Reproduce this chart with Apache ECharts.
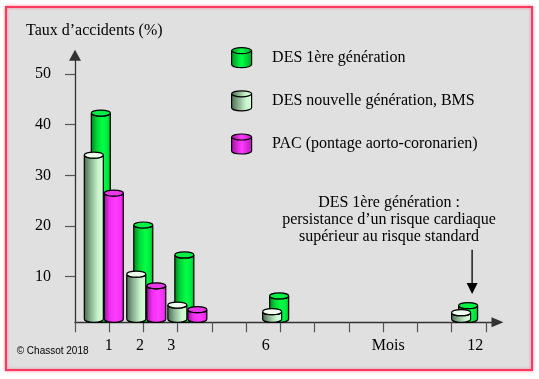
<!DOCTYPE html>
<html>
<head>
<meta charset="utf-8">
<script src="https://cdn.jsdelivr.net/npm/echarts@6/dist/echarts.min.js"></script>
<style>html,body{margin:0;padding:0;background:#fff}#c{width:539px;height:379px}</style>
</head>
<body>
<div id="c"></div>
<script>
// ---- data ----
const seriesNames = ['DES 1ère génération', 'DES nouvelle génération, BMS', 'PAC (pontage aorto-coronarien)'];
const months = ['1', '2', '3', '6', '12'];
const groupX = [0.55, 1.79, 2.99, 5.76, 11.28];      // cluster position on the month axis
const des1 = [42.3, 20.2, 14.3, 6.2, 4.3];
const bms = [34.0, 10.5, 4.4, 3.1, 2.9];
const pac = [26.5, 8.2, 3.5, null, null];
const xTickValues = [0, 1, 2, 3, 4, 5, 6, 7, 8, 9, 10, 11, 12];
const xLabelValues = [0.985, 1.90, 2.81, 5.574, 9.153, 11.69];
const xLabelTexts = ['1', '2', '3', '6', 'Mois', '12'];
const yTickValues = [10, 20, 30, 40, 50];
const annotationLines = ['DES 1ère génération :', 'persistance d’un risque cardiaque', 'supérieur au risque standard'];
const arrowFrom = 15.3, arrowTo = 6.6;

const Y_MIN = 1, Y_MAX = 53.7, X_MIN = 0, X_MAX = 12.343;
const SERIF = '"Liberation Serif", "DejaVu Serif", serif';

function lg(stops) {
  return new echarts.graphic.LinearGradient(0, 0, 1, 0, stops.map((c) => ({offset: c[0], color: c[1]})));
}
const styles = [
  { offset: 7, body: lg([[0, '#007a1a'], [0.3, '#00d838'], [0.6, '#00ff46'], [0.85, '#00e83e'], [1, '#009a26']]), top: '#00f044' },
  { offset: 0, body: lg([[0, '#44634a'], [0.35, '#8cb494'], [0.7, '#c8f4cc'], [1, '#d6ffdc']]), top: '#eeffee' },
  { offset: 20, body: lg([[0, '#9a0e9a'], [0.3, '#f030f0'], [0.6, '#ff3cff'], [0.85, '#f530f5'], [1, '#b818b8']]), top: '#e838e8' }
];
const legendColors = [
  lg([[0, '#00901e'], [0.5, '#00ff46'], [1, '#00a026']]),
  lg([[0, '#4a6a4e'], [0.7, '#c8f4cc'], [1, '#d6ffdc']]),
  lg([[0, '#a010a0'], [0.5, '#ff3cff'], [1, '#b818b8']])
];

function cyl(st) {
  return function (params, api) {
    const x = api.value(0), v = api.value(1);
    const top = api.coord([x, v]);
    const base = api.coord([x, Y_MIN]);
    const rx = 9.5, ry = 3;
    const cx = top[0] + st.offset;
    const l = cx - rx, r = cx + rx, t = top[1], b = base[1] - ry;
    return {
      type: 'group',
      children: [
        { type: 'path', shape: { pathData: `M${l} ${t}L${l} ${b}A${rx} ${ry} 0 0 0 ${r} ${b}L${r} ${t}A${rx} ${ry} 0 0 1 ${l} ${t}Z` },
          style: { fill: st.body, stroke: '#000', lineWidth: 1.2 } },
        { type: 'path', shape: { pathData: `M${l} ${t}A${rx} ${ry} 0 0 0 ${r} ${t}A${rx} ${ry} 0 0 0 ${l} ${t}Z` },
          style: { fill: st.top, stroke: '#000', lineWidth: 1.2 } }
      ]
    };
  };
}
function mk(vals) {
  const out = [];
  vals.forEach((v, i) => { if (v != null) out.push([groupX[i], v]); });
  return out;
}
const allVals = [des1, bms, pac];

const cylIcon = 'path://M0 3A10 3 0 0 0 20 3A10 3 0 0 0 0 3ZM0 3L0 17A10 3 0 0 0 20 17L20 3';

const chart = echarts.init(document.getElementById('c'), null, { renderer: 'canvas' });
chart.setOption({
  animation: false,
  backgroundColor: '#ffffff',
  title: {
    text: 'Taux d’accidents (%)', left: 26, top: 23, padding: 0,
    textStyle: { fontFamily: SERIF, fontSize: 16, fontWeight: 'normal', color: '#000' }
  },
  legend: {
    orient: 'vertical', left: 231, top: 47, padding: 0,
    itemWidth: 21, itemHeight: 20, itemGap: 22,
    icon: cylIcon,
    itemStyle: { borderColor: '#000', borderWidth: 1.2 },
    textStyle: { fontFamily: SERIF, fontSize: 16, color: '#000', padding: [0, 0, 0, 15] },
    data: seriesNames
  },
  grid: { left: 75, right: 41.5, top: 55.3, bottom: 56.7, containLabel: false },
  xAxis: {
    type: 'value', min: X_MIN, max: X_MAX,
    axisLine: { show: true, lineStyle: { color: '#333', width: 1.3 }, symbol: ['none', 'triangle'], symbolSize: [10, 12] },
    axisTick: { show: true, length: 10, lineStyle: { color: '#555', width: 1.2 }, customValues: xTickValues },
    axisLabel: {
      customValues: xLabelValues, margin: 15,
      formatter: (v) => { const i = xLabelValues.findIndex(a => Math.abs(a - v) < 1e-6); return i >= 0 ? xLabelTexts[i] : ''; },
      fontFamily: SERIF, fontSize: 16, color: '#000'
    },
    splitLine: { show: false }
  },
  yAxis: {
    type: 'value', min: Y_MIN, max: Y_MAX,
    axisLine: { show: true, lineStyle: { color: '#333', width: 1.3 }, symbol: ['none', 'triangle'], symbolSize: [12, 11] },
    axisTick: { show: true, length: 10, lineStyle: { color: '#555', width: 1.2 }, customValues: yTickValues },
    axisLabel: { customValues: yTickValues, margin: 24, fontFamily: SERIF, fontSize: 16, color: '#000' },
    splitLine: { show: false }
  },
  series: allVals.map((vals, k) => ({
    type: 'custom', name: seriesNames[k], z: 2 + k,
    itemStyle: { color: legendColors[k], borderColor: '#000', borderWidth: 1.2 },
    renderItem: cyl(styles[k]),
    encode: { x: 0, y: 1 },
    data: mk(vals)
  }))
});

// annotation arrow, positioned through the axes
const p1 = chart.convertToPixel({ gridIndex: 0 }, [groupX[4], arrowFrom]);
const p2 = chart.convertToPixel({ gridIndex: 0 }, [groupX[4], arrowTo]);
const ax = p1[0] + styles[0].offset + 4;
chart.setOption({
  graphic: [
    { type: 'rect', z: -10, shape: { x: 6, y: 7, width: 526, height: 363 },
      style: { fill: '#e0e0e0', stroke: '#ff3a60', lineWidth: 2, shadowBlur: 3, shadowColor: 'rgba(255,40,80,0.5)' } },
    { type: 'text', x: 16.7, y: 351.7, z: 10,
      style: { text: '© Chassot 2018', font: '10px "Liberation Sans", Arial, sans-serif', fill: '#000', textVerticalAlign: 'middle' } },
    { type: 'text', x: 389, y: 194.3, z: 10,
      style: { text: annotationLines.join('\n'), font: '16px ' + SERIF, lineHeight: 17, fill: '#000', textAlign: 'center', textVerticalAlign: 'top' } },
    { type: 'line', z: 10, shape: { x1: ax, y1: p1[1], x2: ax, y2: p2[1] - 11 }, style: { stroke: '#000', lineWidth: 1.3 } },
    { type: 'polygon', z: 10, shape: { points: [[ax - 5.5, p2[1] - 11], [ax + 5.5, p2[1] - 11], [ax, p2[1]]] }, style: { fill: '#000' } }
  ]
});
</script>
</body>
</html>
